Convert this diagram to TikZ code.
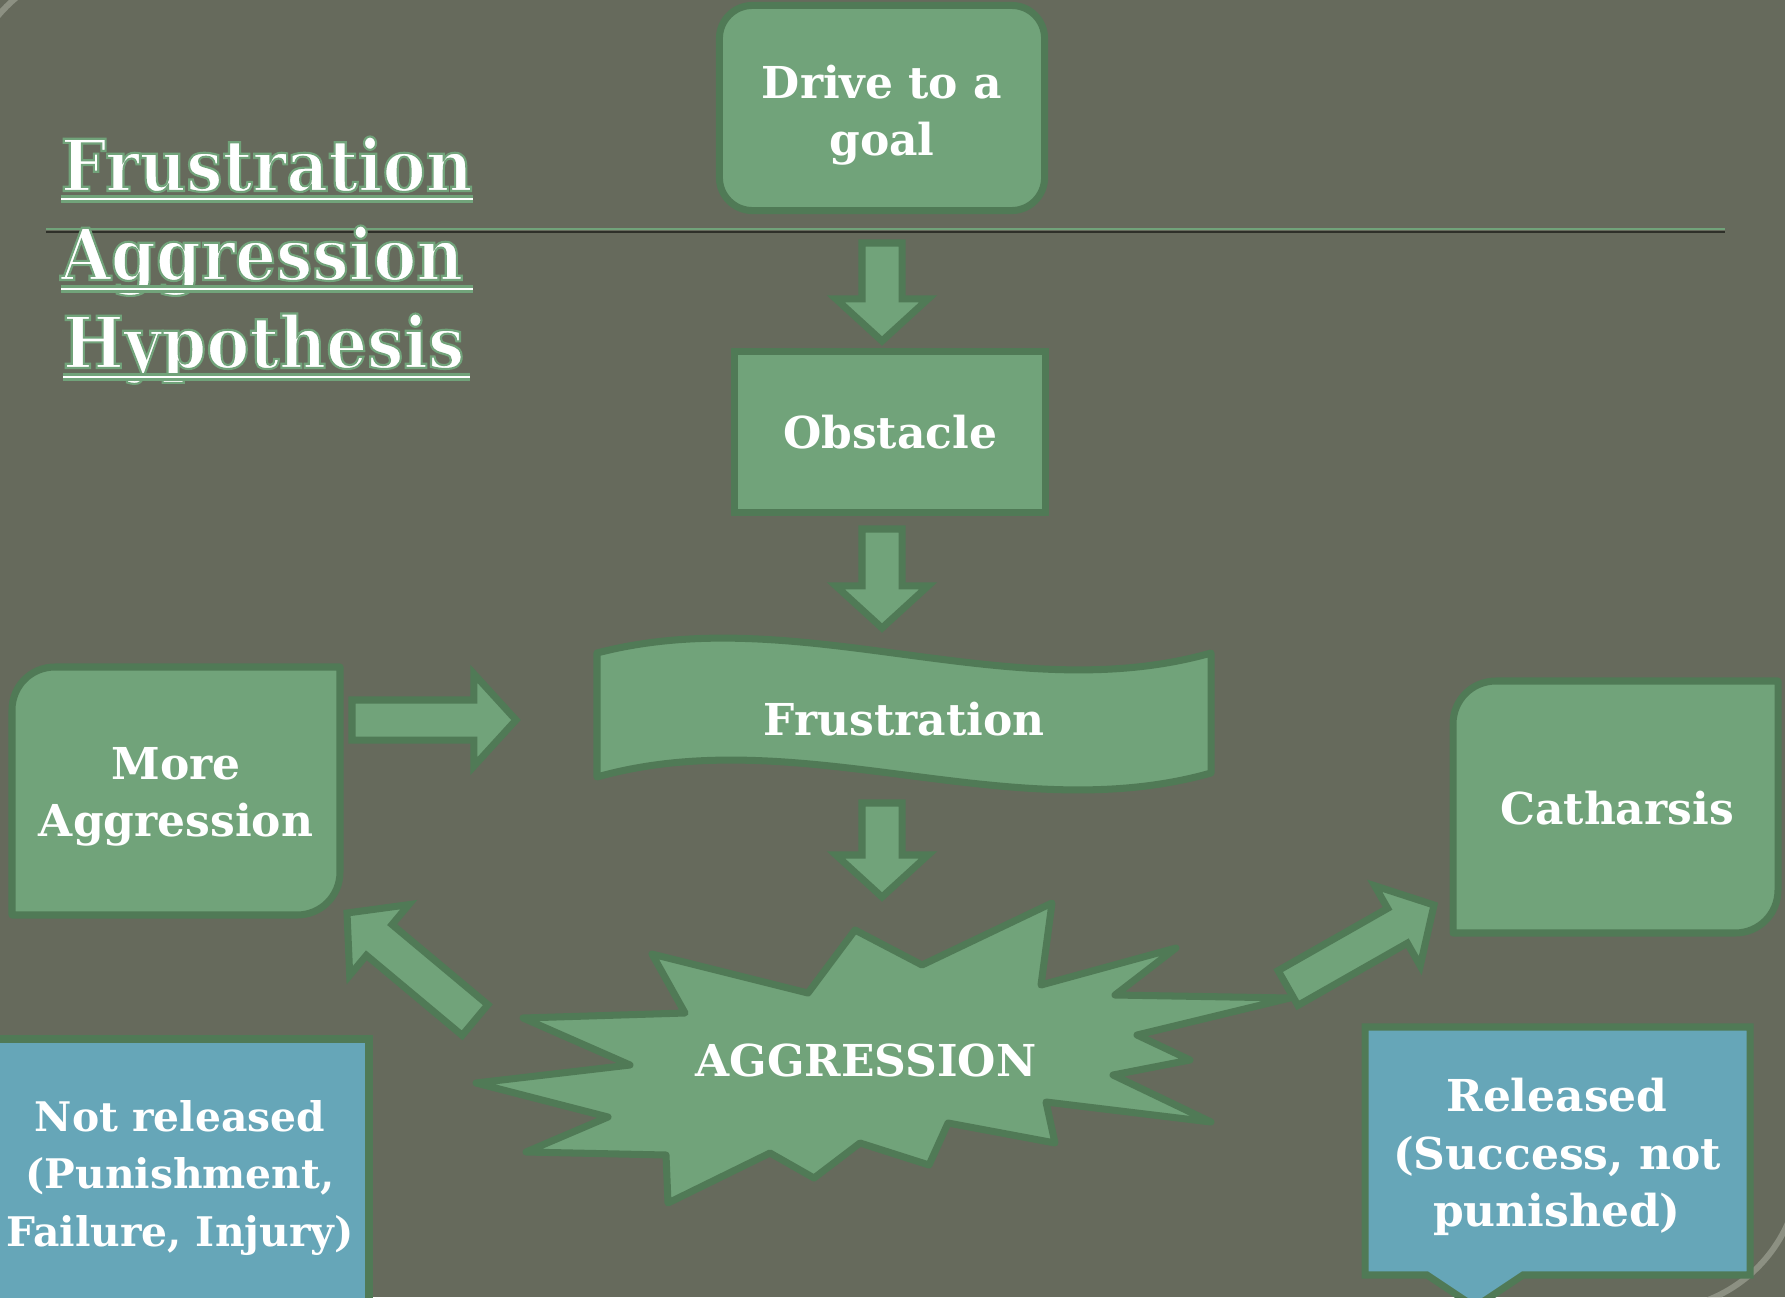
\documentclass[tikz,border=0pt]{standalone}
\usepackage{fontspec}
\setmainfont{DejaVu Serif}
\newfontfamily\condserif{DejaVu Serif Condensed Bold}
\usetikzlibrary{calc}

\definecolor{slatebg}{RGB}{102,106,92}
\definecolor{leafgreen}{RGB}{113,163,122}
\definecolor{edgegreen}{RGB}{80,122,86}
\definecolor{skyblue}{RGB}{102,166,184}
\definecolor{framegrey}{RGB}{140,144,130}

\newcommand{\boxtext}{\bfseries\fontsize{12.5}{16.4}\selectfont}
\newcommand{\titletext}{\condserif\fontsize{20.4}{25}\selectfont}
\newcommand{\outlined}[1]{\special{pdf:literal direct 2 Tr 0.6 w 0.443 0.639 0.478 RG}#1\special{pdf:literal direct 0 Tr}}

\newcommand{\blockarrow}[2]{%
  \coordinate (hb) at ($(#2)!0.42cm!(#1)$);
  \draw[blockarr] ($(#1)!0.2cm!90:(#2)$) -- ($(hb)!0.2cm!90:(#2)$) -- ($(hb)!0.46cm!90:(#2)$) -- (#2)
    -- ($(hb)!0.46cm!-90:(#2)$) -- ($(hb)!0.2cm!-90:(#2)$) -- ($(#1)!0.2cm!-90:(#2)$) -- cycle;}

\newcommand{\diagshape}[4]{%
  \draw[greenshape] (#1,#4) -- (#1,#2+43) .. controls (#1,#2+19) and (#1+19,#2) .. (#1+43,#2) -- (#3,#2)
    -- (#3,#4-43) .. controls (#3,#4-19) and (#3-19,#4) .. (#3-43,#4) -- cycle;}

\begin{document}
\begin{tikzpicture}[x=0.01cm,y=-0.01cm,
  greenbox/.style={draw=edgegreen,fill=leafgreen,line width=2pt,text=white,font=\boxtext,align=center},
  greenshape/.style={draw=edgegreen,fill=leafgreen,line width=2pt,line join=round},
  bluebox/.style={draw=edgegreen,fill=skyblue,line width=2pt},
  blockarr/.style={draw=edgegreen,fill=leafgreen,line width=2pt},
  whitetext/.style={text=white,font=\boxtext,align=center},
  titleword/.style={anchor=base west,inner sep=0pt,text=white,font=\titletext},
  titlerule/.style={draw=leafgreen,double=white,double distance=0.8pt,line width=0.6pt}]
        \useasboundingbox (0,0) rectangle (1785,1297);
        \fill[slatebg] (0,0) rectangle (1785,1297);
        \begin{scope}
          \clip (0,0) rectangle (120,120) (1600,1100) rectangle (1785,1297);
          \draw[framegrey,line width=0.06cm,rounded corners=1.45cm] (-36,-36) rectangle (1800,1310);
        \end{scope}
        \draw[line width=0.8pt,black!55!slatebg] (46,232) -- (1725,232);
        \draw[line width=0.7pt,leafgreen] (46,229) -- (1725,229);

        \node[titleword] (title1) at (60,191) {\outlined{Frustration}};
        \node[titleword] (title2) at (60,280) {\outlined{Aggression}};
        \node[titleword] (title3) at (62,368) {\outlined{Hypothesis}};
        \draw[titlerule] (61,199) -- (473,199);
        \draw[titlerule] (61,289) -- (473,289);
        \draw[titlerule] (63,377) -- (470,377);

        \coordinate (aggrc) at (866,1060);
        \draw[greenshape,shift={(aggrc)}] (-390,23) -- (-236,5) -- (-343,-42) -- (-181,-47) -- (-214,-106)
          -- (-58,-67) -- (-11,-130) -- (56,-95) -- (186,-157) -- (175,-75) -- (310,-112) -- (249,-65)
          -- (424,-62) -- (271,-25) -- (324,0) -- (247,15) -- (345,62) -- (180,42) -- (189,83) -- (82,63)
          -- (63,105) -- (-6,83) -- (-52,118) -- (-96,93) -- (-198,143) -- (-200,95) -- (-340,92)
          -- (-258,57) -- cycle;
        \coordinate (frustc) at (904,715);
        \draw[greenshape,shift={(frustc)}] (-307,-62) .. controls (-104,-115) and (106,-5) .. (307,-62)
          -- (307,58) .. controls (106,115) and (-104,5) .. (-307,62) -- cycle;
        \diagshape{12}{667}{340}{915}
        \diagshape{1453}{681}{1778}{933}
        \draw[bluebox] (-6,1039) rectangle (369,1330);
        \draw[bluebox] (1365,1027) -- (1750,1027) -- (1750,1275) -- (1523,1275) -- (1475,1307)
          -- (1427,1275) -- (1365,1275) -- cycle;

        \coordinate (a1s) at (882,243);
        \coordinate (a1e) at (882,341);
        \coordinate (a2s) at (882,529);
        \coordinate (a2e) at (882,628);
        \coordinate (a3s) at (882,803);
        \coordinate (a3e) at (882,897);
        \coordinate (a4s) at (352,720);
        \coordinate (a4e) at (516,720);
        \coordinate (a5s) at (475,1020);
        \coordinate (a5e) at (347,913);
        \coordinate (a6s) at (1288,988);
        \coordinate (a6e) at (1434,905);
        \blockarrow{a1s}{a1e}
        \blockarrow{a2s}{a2e}
        \blockarrow{a3s}{a3e}
        \blockarrow{a4s}{a4e}
        \blockarrow{a5s}{a5e}
        \blockarrow{a6s}{a6e}

        \node[greenbox,rounded corners=0.33cm,minimum width=3.25cm,minimum height=2.05cm] (drive) at (882,108) {\rule{0pt}{13.5pt}Drive to a\\goal};
        \node[greenbox,minimum width=3.1cm,minimum height=1.6cm] (obstacle) at (890,432) {Obstacle};
        \node[whitetext] (frustr) at (904,719) {Frustration};
        \node[whitetext] (aggr) at (aggrc) {AGGRESSION};
        \node[whitetext] (moreaggr) at (176,797) {More\\Aggression};
        \node[whitetext] (cathar) at (1617,808) {Catharsis};
        \node[whitetext,font=\bfseries\fontsize{11.6}{16.4}\selectfont] (notrel) at (180,1178) {Not released\\(Punishment,\\Failure, Injury)};
        \node[whitetext] (released) at (1557,1157) {Released\\(Success, not\\punished)};
\end{tikzpicture}
\end{document}
